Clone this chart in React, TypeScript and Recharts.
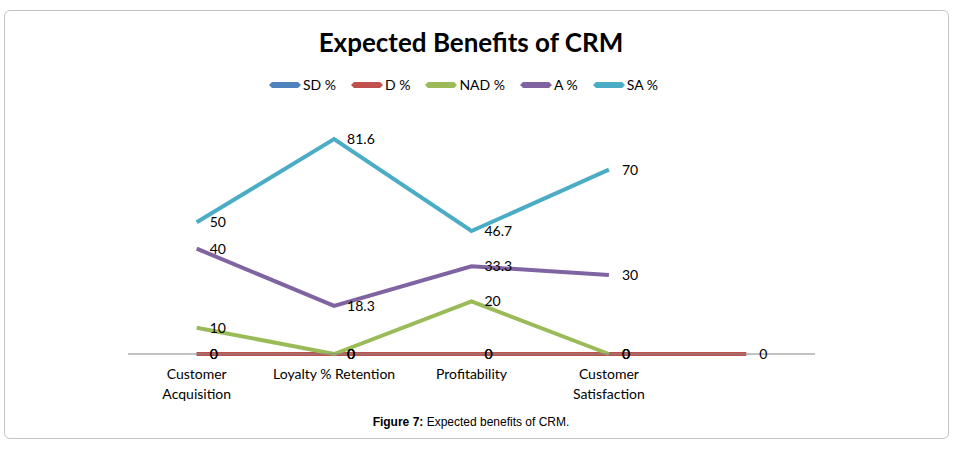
import React from "react";
import { LineChart, Line, XAxis, YAxis, LabelList } from "recharts";

// categories (the last one is an empty slot in the original sheet)
const categories = [
  "Customer\nAcquisition",
  "Loyalty % Retention",
  "Profitability",
  "Customer\nSatisfaction",
  "",
];

const sdPct = [0, 0, 0, 0, null];
const dPct = [0, 0, 0, 0, 0];
const nadPct = [10, 0, 20, 0, null];
const aPct = [40, 18.3, 33.3, 30, null];
const saPct = [50, 81.6, 46.7, 70, null];

const seriesNames = ["SD %", "D %", "NAD %", "A %", "SA %"];
const seriesKeys = ["sd", "d", "nad", "a", "sa"];
const seriesColors = ["#4F81BD", "#C0504D", "#9BBB59", "#8064A2", "#4BACC6"];
const seriesValues = [sdPct, dPct, nadPct, aPct, saPct];

const data = categories.map((name, i) => {
  const row: any = { name };
  seriesKeys.forEach((k, j) => {
    row[k] = seriesValues[j][i];
  });
  return row;
});

const FONT = "Lato, 'Noto Sans', sans-serif";

// plot area 128..815 split in 5 equal slots, points in the middle of each
const HALF_SLOT = (815 - 128) / categories.length / 2;

const CategoryTick = (props: any) => {
  const { x, y, payload } = props;
  const lines = String(payload.value).split("\n");
  return (
    <g transform={`translate(${x},${y})`}>
      {lines.map((l, i) => (
        <text
          key={i}
          x={0}
          y={17 + i * 20}
          textAnchor="middle"
          fontSize={14}
          fontFamily={FONT}
          fill="#000"
        >
          {l}
        </text>
      ))}
    </g>
  );
};

const renderValue = (props: any) => {
  const { x, y, value } = props;
  if (value === null || value === undefined) return null;
  return (
    <text
      x={x + 13}
      y={y}
      dy={5}
      fontSize={14}
      fontFamily={FONT}
      fill="#000"
    >
      {value}
    </text>
  );
};

function LegendIcon({ color }: { color: string }) {
  return (
    <svg width={32} height={8} style={{ marginRight: 2 }}>
      <polygon points="0,4 3,1 29,1 32,4 29,7 3,7" fill={color} />
    </svg>
  );
}

export default function App() {
  return (
    <div
      style={{
        position: "absolute",
        left: 0,
        top: 0,
        width: 961,
        height: 451,
        background: "#fff",
      }}
    >
      <div
        style={{
          position: "absolute",
          left: 4,
          top: 10,
          width: 943,
          height: 427,
          border: "1px solid #c4c4c4",
          borderRadius: 6,
        }}
      />
      <div
        style={{
          position: "absolute",
          left: 0,
          top: 26,
          width: 942,
          textAlign: "center",
          fontFamily: FONT,
          fontWeight: 700,
          fontSize: 26,
          color: "#000",
        }}
      >
        Expected Benefits of CRM
      </div>
      <div
        style={{
          position: "absolute",
          left: 0,
          top: 76,
          width: 942,
          display: "flex",
          justifyContent: "center",
          alignItems: "center",
          fontFamily: FONT,
          fontSize: 14,
          color: "#000",
        }}
      >
        {seriesNames.map((n, i) => (
          <div
            key={n}
            style={{ display: "flex", alignItems: "center", marginRight: 15 }}
          >
            <LegendIcon color={seriesColors[i]} />
            <span>{n}</span>
          </div>
        ))}
      </div>
      <div style={{ position: "absolute", left: 0, top: 0 }}>
        <LineChart
          width={961}
          height={451}
          data={data}
          margin={{ top: 117, right: 146, bottom: 67, left: 128 }}
        >
          <XAxis
            dataKey="name"
            height={30}
            interval={0}
            tickLine={false}
            padding={{ left: HALF_SLOT, right: HALF_SLOT }}
            axisLine={{ stroke: "#878787", strokeWidth: 1 }}
            tick={<CategoryTick />}
          />
          <YAxis hide domain={[0, 90]} />
          {seriesKeys.map((k, i) => (
            <Line
              key={k}
              dataKey={k}
              name={seriesNames[i]}
              stroke={seriesColors[i]}
              strokeWidth={4}
              dot={false}
              activeDot={false}
              type="linear"
              isAnimationActive={false}
            >
              <LabelList dataKey={k} content={renderValue} />
            </Line>
          ))}
        </LineChart>
      </div>
      <div
        style={{
          position: "absolute",
          left: 0,
          top: 415,
          width: 942,
          textAlign: "center",
          fontFamily: "'Liberation Sans', Arial, sans-serif",
          fontSize: 12,
          color: "#000",
        }}
      >
        <b>Figure 7:</b> Expected benefits of CRM.
      </div>
    </div>
  );
}
